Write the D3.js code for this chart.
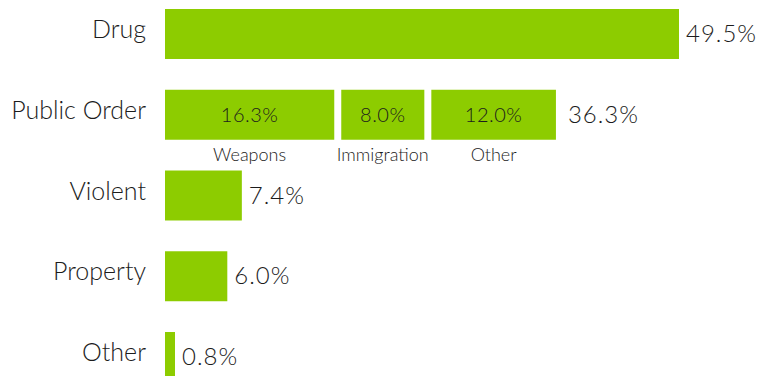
<!DOCTYPE html>
<html>
<head>
<meta charset="utf-8">
<script src="https://cdn.jsdelivr.net/npm/d3@7"></script>
<style>
  body { margin: 0; background: #fff; }
  text { font-family: "Lato", "Open Sans", sans-serif; font-weight: 300; fill: #1c1c1c; }
</style>
</head>
<body>
<script>
// chart values
var categories = ["Drug", "Public Order", "Violent", "Property", "Other"];
var values = [49.5, 36.3, 7.4, 6.0, 0.8];
var valueLabels = ["49.5%", "36.3%", "7.4%", "6.0%", "0.8%"];

// breakdown of the Public Order bar
var subCategories = ["Weapons", "Immigration", "Other"];
var subValues = [16.3, 8.0, 12.0];
var subLabels = ["16.3%", "8.0%", "12.0%"];

var svgWidth = 772;
var svgHeight = 376;
var left = 165;
var segGap = 7;
var green = "#8dcc00";

var svg = d3.select("body")
  .append("svg")
  .attr("width", svgWidth)
  .attr("height", svgHeight);

var xScale = d3.scaleLinear().domain([0, 49.5]).range([0, 514]);
var yScale = d3.scaleBand()
  .domain(categories)
  .range([9, 382])
  .paddingInner(0.381)
  .paddingOuter(0);

var bh = yScale.bandwidth();

// plain bars (everything but Public Order)
var plain = categories.map(function (c, i) {
  return { cat: c, value: values[i], label: valueLabels[i] };
});

svg.selectAll(".bar")
  .data(plain.filter(function (d) { return d.cat !== "Public Order"; }))
  .enter()
  .append("rect")
  .attr("class", "bar")
  .attr("x", left)
  .attr("y", function (d) { return yScale(d.cat); })
  .attr("width", function (d) { return Math.max(xScale(d.value), 10); })
  .attr("height", bh)
  .attr("fill", green);

// stacked segments of Public Order
var segs = [];
var acc = 0;
subCategories.forEach(function (s, i) {
  segs.push({ name: s, value: subValues[i], label: subLabels[i], start: acc, idx: i });
  acc += subValues[i];
});
var poY = yScale("Public Order");

svg.selectAll(".seg")
  .data(segs)
  .enter()
  .append("rect")
  .attr("class", "seg")
  .attr("x", function (d) { return left + xScale(d.start) + d.idx * segGap; })
  .attr("y", poY)
  .attr("width", function (d) { return xScale(d.value); })
  .attr("height", bh)
  .attr("fill", green);

function segCenter(d) {
  return left + xScale(d.start) + d.idx * segGap + xScale(d.value) / 2;
}

svg.selectAll(".segLabel")
  .data(segs)
  .enter()
  .append("text")
  .attr("class", "segLabel")
  .attr("x", segCenter)
  .attr("y", poY + bh / 2 + 7)
  .attr("text-anchor", "middle")
  .attr("font-size", "20px")
  .attr("letter-spacing", "0.5px")
  .text(function (d) { return d.label; });

svg.selectAll(".segName")
  .data(segs)
  .enter()
  .append("text")
  .attr("class", "segName")
  .attr("x", segCenter)
  .attr("y", poY + bh + 21)
  .attr("text-anchor", "middle")
  .attr("font-size", "18px")
  .text(function (d) { return d.name; });

// category labels
svg.selectAll(".catLabel")
  .data(plain)
  .enter()
  .append("text")
  .attr("class", "catLabel")
  .attr("x", 146)
  .attr("y", function (d) { return yScale(d.cat) + bh / 2 + 4; })
  .attr("text-anchor", "end")
  .attr("font-size", "25px")
  .text(function (d) { return d.cat; });

// value labels at bar ends
var poEnd = left + xScale(acc) + (subCategories.length - 1) * segGap;

svg.selectAll(".valLabel")
  .data(plain)
  .enter()
  .append("text")
  .attr("class", "valLabel")
  .attr("x", function (d) {
    if (d.cat === "Public Order") return poEnd + 12;
    return left + Math.max(xScale(d.value), 10) + 7;
  })
  .attr("y", function (d) { return yScale(d.cat) + bh / 2 + 8; })
  .attr("font-size", "24px")
  .attr("letter-spacing", "1px")
  .text(function (d) { return d.label; });
</script>
</body>
</html>
